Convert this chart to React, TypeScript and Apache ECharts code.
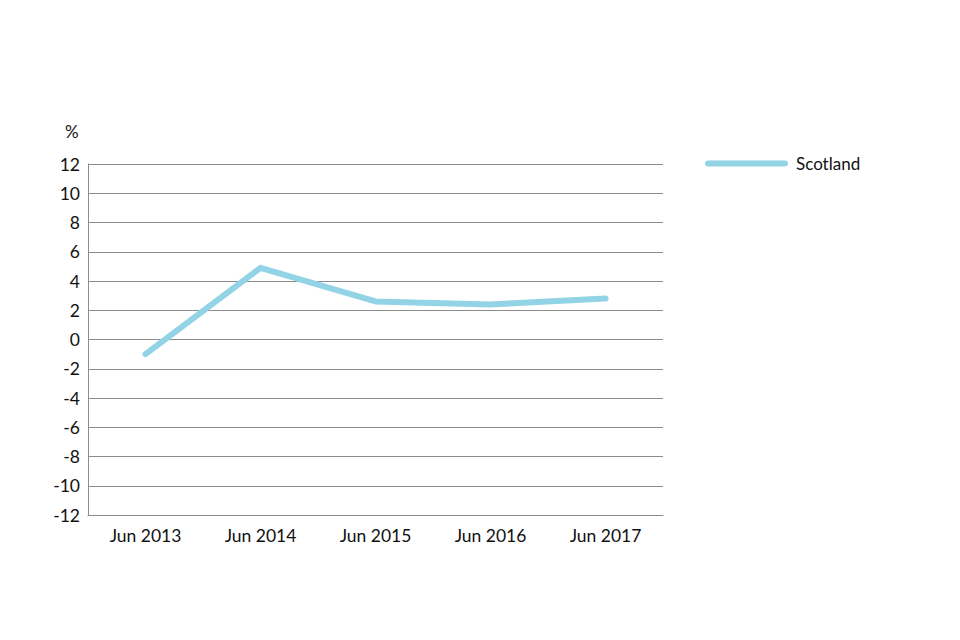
import { useEffect, useRef } from "react";
import * as echarts from "echarts";

const categories = ["Jun 2013", "Jun 2014", "Jun 2015", "Jun 2016", "Jun 2017"];
const scotland = [-1.0, 4.9, 2.6, 2.4, 2.8];
const seriesName = "Scotland";
const unitLabel = "%";

const lineColor = "#93d3e6";
const gridColor = "#8c8c8c";
const font = "Lato, 'Open Sans', sans-serif";

export default function App() {
  const chartRef = useRef<HTMLDivElement | null>(null);

  useEffect(() => {
    document.body.style.margin = "0";
    if (!chartRef.current) return;
    const chart = echarts.init(chartRef.current, undefined, { renderer: "svg" });

    chart.setOption({
      animation: false,
      textStyle: { fontFamily: font },
      grid: { left: 88, right: 297, top: 164, bottom: 125 },
      legend: {
        left: 700,
        top: 150,
        itemWidth: 77,
        itemHeight: 20,
        textStyle: { fontSize: 17, color: "#111", padding: [0, 0, 0, 6], fontFamily: font },
        lineStyle: { width: 6, cap: "round" },
        itemStyle: { opacity: 0 },
        data: [seriesName],
      },
      graphic: [
        {
          type: "text",
          left: 65,
          top: 123,
          style: { text: unitLabel, fontSize: 17, fill: "#111", fontFamily: font },
        },
      ],
      xAxis: {
        type: "category",
        data: categories,
        boundaryGap: true,
        axisLine: { onZero: false, lineStyle: { color: gridColor, width: 1 } },
        axisTick: { show: false },
        axisLabel: { color: "#111", fontSize: 17.5, margin: 11, fontFamily: font },
      },
      yAxis: {
        type: "value",
        min: -12,
        max: 12,
        interval: 2,
        axisLine: { show: true, lineStyle: { color: gridColor, width: 1 } },
        axisTick: { show: false },
        axisLabel: { color: "#111", fontSize: 17.5, margin: 8, fontFamily: font },
        splitLine: { lineStyle: { color: gridColor, width: 1 } },
      },
      series: [
        {
          name: seriesName,
          type: "line",
          data: scotland,
          symbol: "none",
          lineStyle: { color: lineColor, width: 6, cap: "round", join: "round" },
          itemStyle: { color: lineColor },
        },
      ],
    });

    return () => chart.dispose();
  }, []);

  return <div ref={chartRef} style={{ width: 960, height: 640 }} />;
}
